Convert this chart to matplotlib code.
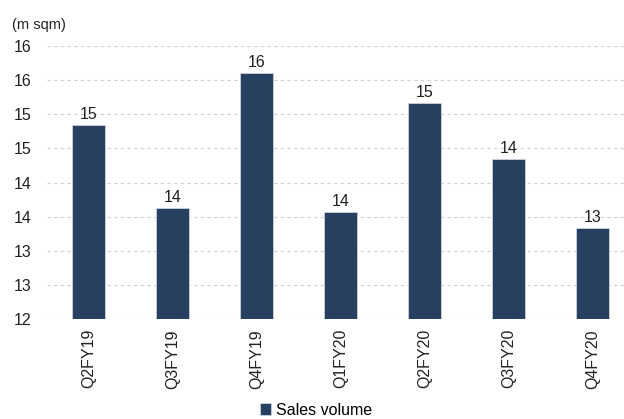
import matplotlib
matplotlib.use("Agg")
import matplotlib.pyplot as plt

categories = ["Q2FY19", "Q3FY19", "Q4FY19", "Q1FY20", "Q2FY20", "Q3FY20", "Q4FY20"]
sales_volume = [14.84, 13.63, 15.60, 13.57, 15.16, 14.34, 13.33]
y_ticks = [12, 12.5, 13, 13.5, 14, 14.5, 15, 15.5, 16]
y_tick_labels = ["12", "13", "13", "14", "14", "15", "15", "16", "16"]
value_labels = ["15", "14", "16", "14", "15", "14", "13"]

plt.rcParams['font.family'] = ["Liberation Sans", 'DejaVu Sans']

bar_color = "#27405F"

fig = plt.figure(figsize=(6.24, 4.19), dpi=100)
ax = fig.add_axes([46.5/624, 1-319.3/419, (624-46.5)/624, (319.3-46)/419])

x = list(range(len(categories)))
ax.bar(x, sales_volume, width=0.40, bottom=0, color=bar_color,
       edgecolor="#c9d2de", linewidth=0.6, label="Sales volume", zorder=3)
for xi, v, lab in zip(x, sales_volume, value_labels):
    ax.text(xi, v + 0.05, lab, ha="center", va="bottom", fontsize=11.5, color="#222222")

ax.set_ylim(12, 16)
ax.set_xlim(-0.5, 6.375)
ax.set_yticks(y_ticks)
ax.set_yticklabels(y_tick_labels, fontsize=11.5, color="#222222")
ax.set_xticks(x)
ax.set_xticklabels(categories, rotation=90, fontsize=11.5, color="#222222")
ax.tick_params(axis="y", length=0, pad=11)
ax.tick_params(axis="x", length=0, pad=7)
ax.yaxis.grid(True, linestyle=(0, (3, 3)), color="#cfcfcf", linewidth=0.8, zorder=0)
ax.set_axisbelow(True)
for s in ax.spines.values():
    s.set_visible(False)

fig.text(12/624, 1-25/419, "(m sqm)", fontsize=10.5, color="#222222", va="center", ha="left")

fig.legend(loc="center", bbox_to_anchor=(316/624, 1-410/419), frameon=False,
           fontsize=11.5, handlelength=0.7, handleheight=0.7, handletextpad=0.3)

fig.savefig("out.png", dpi=100)
